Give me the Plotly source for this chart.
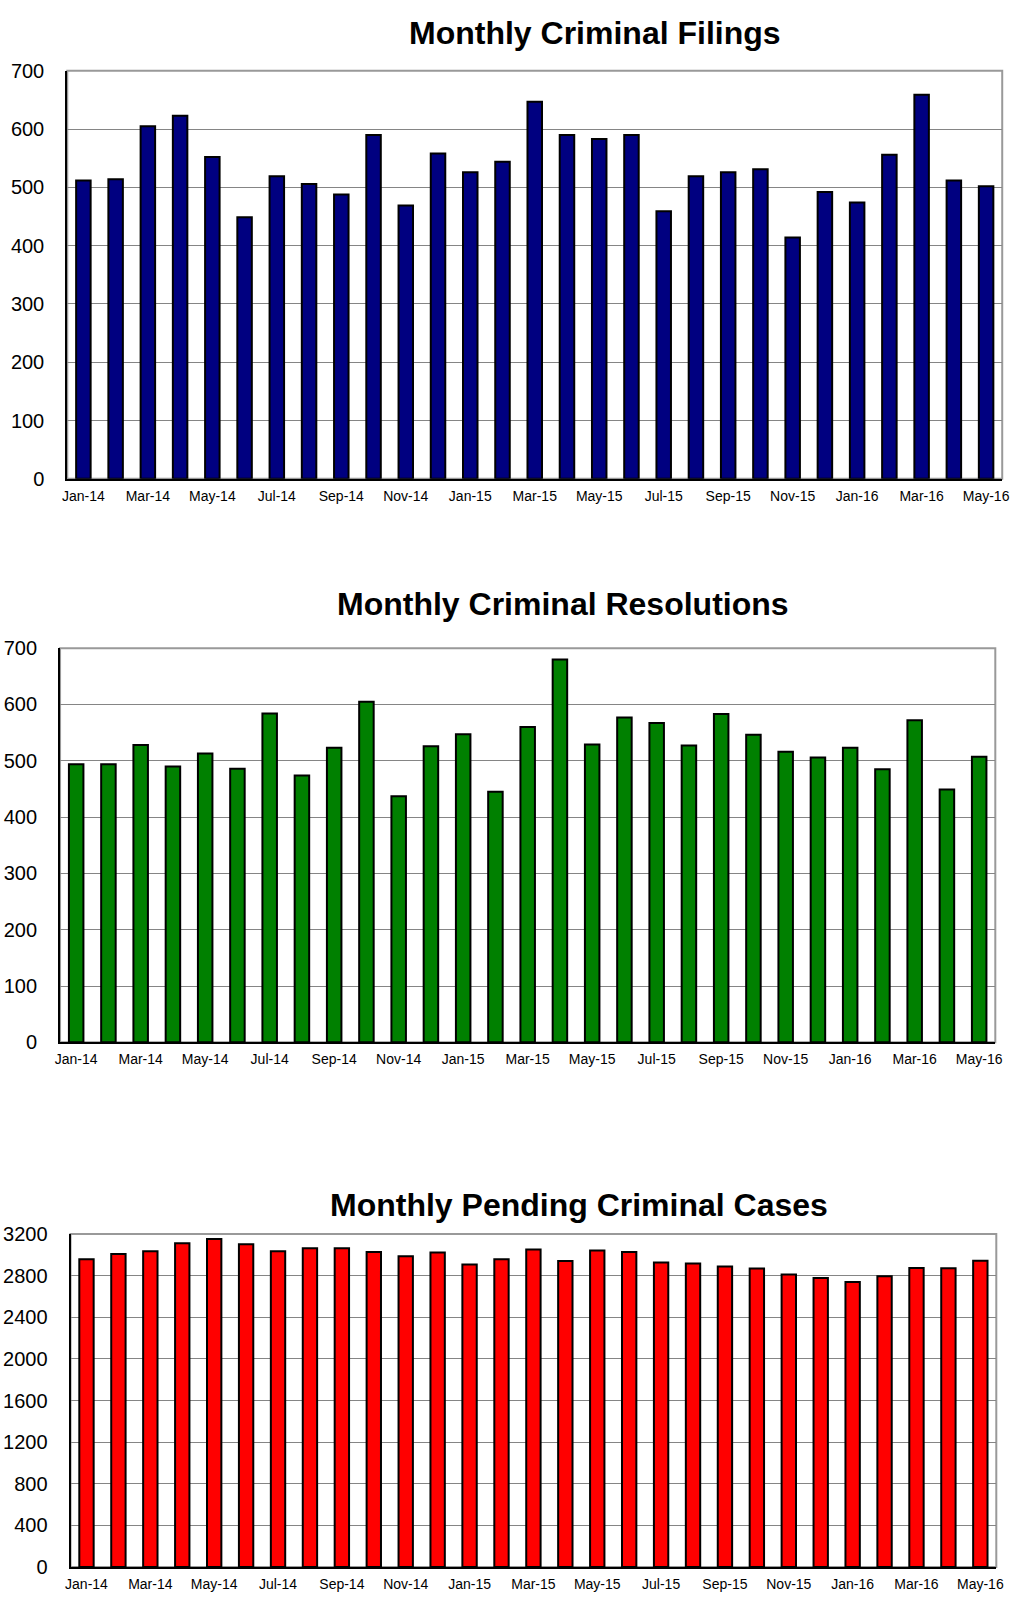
import plotly.graph_objects as go

W, H = 1028, 1604

months = ["Jan-14", "Feb-14", "Mar-14", "Apr-14", "May-14", "Jun-14", "Jul-14", "Aug-14",
          "Sep-14", "Oct-14", "Nov-14", "Dec-14", "Jan-15", "Feb-15", "Mar-15", "Apr-15",
          "May-15", "Jun-15", "Jul-15", "Aug-15", "Sep-15", "Oct-15", "Nov-15", "Dec-15",
          "Jan-16", "Feb-16", "Mar-16", "Apr-16", "May-16"]

filings = [512, 514, 605, 623, 552, 449, 519, 506, 488, 590, 469, 558, 526, 544,
           647, 590, 583, 590, 459, 519, 526, 531, 414, 492, 474, 556, 659, 512, 502]

resolutions = [494, 494, 528, 490, 513, 486, 584, 474, 523, 605, 437, 526, 547, 445,
               560, 680, 529, 577, 567, 527, 583, 546, 516, 506, 523, 485, 572, 449, 507]

pending = [2957, 3007, 3033, 3112, 3153, 3102, 3033, 3064, 3064, 3026, 2985, 3023, 2906, 2957,
           3052, 2941, 3042, 3026, 2925, 2916, 2887, 2868, 2811, 2777, 2739, 2793, 2874, 2871, 2944]

tick_labels = months[::2]

titles = ["Monthly Criminal Filings", "Monthly Criminal Resolutions", "Monthly Pending Criminal Cases"]
colors = ["#000080", "#008000", "#FF0000"]
series = [filings, resolutions, pending]
yranges = [(0, 700, 100), (0, 700, 100), (0, 3200, 400)]

# plot areas in page pixels: (left, right, top, bottom)
boxes = [(63, 1009, 60.7, 474.3), (55.7, 1002, 646, 1045.7), (66.3, 1003, 1240, 1577.7)]
title_pos = [(597, 22), (565, 601), (580.5, 1211)]

FONT = "Liberation Sans, Arial, sans-serif"


def px(x):
    return x / W


def py(y):
    return 1 - y / H


fig = go.Figure()
layout = dict(width=W, height=H, margin=dict(l=0, r=0, t=0, b=0),
              paper_bgcolor="white", plot_bgcolor="white", showlegend=False,
              bargap=0.55, font=dict(family=FONT, color="black"))
shapes = []
annotations = []

for i in range(3):
    n = "" if i == 0 else str(i + 1)
    xa, ya = "x" + n, "y" + n
    fig.add_trace(go.Bar(x=months, y=series[i], xaxis=xa, yaxis=ya,
                         marker=dict(color=colors[i], line=dict(color="black", width=2)),
                         hoverinfo="x+y"))
    l, r, t, b = boxes[i]
    y0, y1, dt = yranges[i]
    layout["xaxis" + n] = dict(domain=[px(l), px(r)], anchor=ya, type="category",
                               tickmode="array", tickvals=tick_labels, ticktext=tick_labels,
                               tickfont=dict(size=14, family=FONT), showgrid=False,
                               showline=True, linecolor="black", linewidth=2,
                               ticks="", ticklen=0, tickangle=0, ticklabelstandoff=3,
                               fixedrange=True)
    layout["yaxis" + n] = dict(domain=[py(b), py(t)], anchor=xa, range=[y0, y1],
                               tick0=0, dtick=dt, tickfont=dict(size=20, family=FONT),
                               showgrid=True, gridcolor="#858585", gridwidth=1,
                               zeroline=False, showline=True, linecolor="black", linewidth=2,
                               ticks="", ticklabelstandoff=17, fixedrange=True)
    shapes.append(dict(type="rect", xref=xa + " domain", yref=ya + " domain",
                       x0=0, x1=1, y0=0, y1=1, line=dict(color="#999999", width=2),
                       layer="below"))
    tx, ty = title_pos[i]
    annotations.append(dict(text="<b>" + titles[i] + "</b>", xref="paper", yref="paper",
                            x=px(tx), y=py(ty), xanchor="center", yanchor="middle",
                            showarrow=False, font=dict(size=32, family=FONT, color="black")))

layout["shapes"] = shapes
layout["annotations"] = annotations
fig.update_layout(**layout)

# remove the default page margin so the figure fills the window exactly
page_fix = ("document.body.style.margin='0';document.body.style.padding='0';"
            "document.body.style.overflow='hidden';"
            "document.documentElement.style.overflow='hidden';")
fig.write_html("out.html", post_script=page_fix,
               config={"displayModeBar": False, "staticPlot": False})
